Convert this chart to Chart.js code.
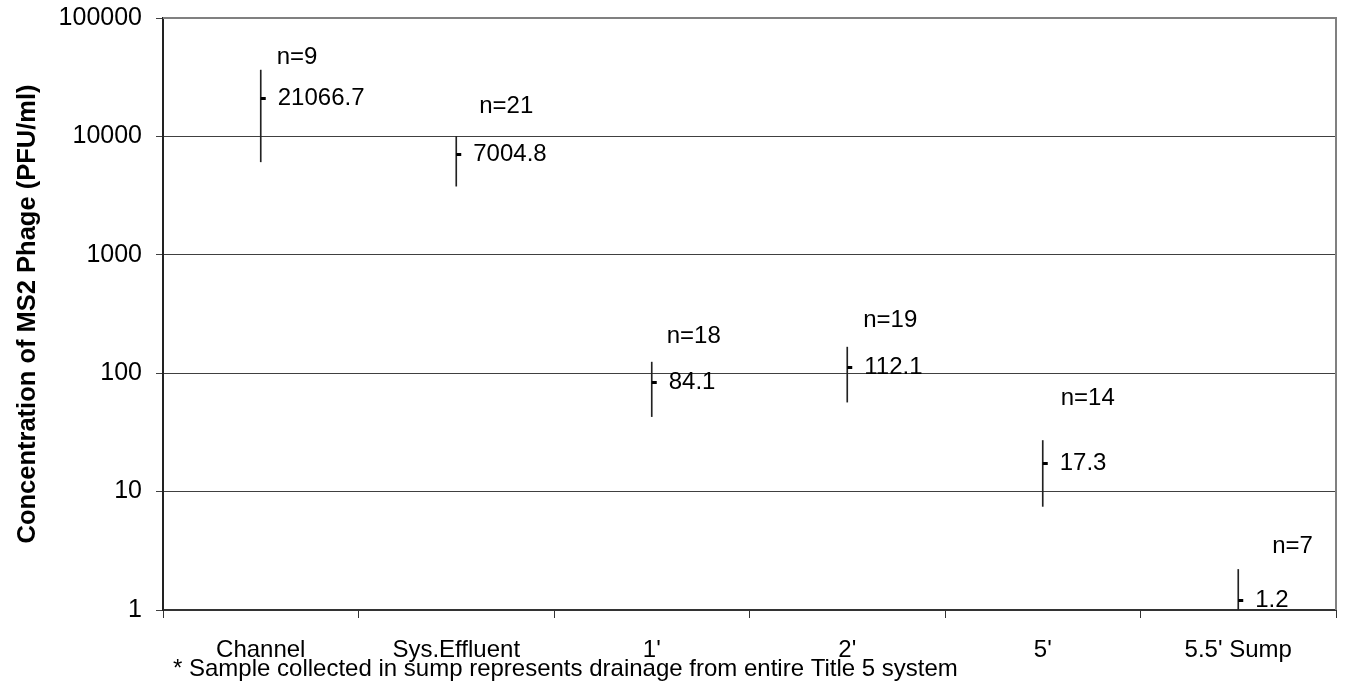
<!DOCTYPE html>
<html>
<head>
<meta charset="utf-8">
<script src="https://cdn.jsdelivr.net/npm/chart.js@4/dist/chart.umd.min.js"></script>
<style>
  html, body { margin: 0; padding: 0; background: #fff; }
</style>
</head>
<body>
<canvas id="chart" width="1346" height="686"></canvas>
<script>
// sampling locations
const categories = ['Channel', 'Sys.Effluent', "1'", "2'", "5'", "5.5' Sump"];
// mean concentration (PFU/ml)
const means = [21066.7, 7004.8, 84.1, 112.1, 17.3, 1.2];
const highs = [36300, 10000, 124, 166, 27, 2.2];
const lows = [6100, 3800, 43, 57, 7.5, 1];
// number of samples
const counts = [9, 21, 18, 19, 14, 7];
// y axis decades
const yTicks = [1, 10, 100, 1000, 10000, 100000];

const footnote = '* Sample collected in sump represents drainage from entire Title 5 system';
const FONT = '"Liberation Sans", Arial, Helvetica, sans-serif';
const FONT_SIZE = 24;

// where the "n=" labels sit relative to the mean marker [dx, dy]
const nLabelShift = [[16, 41], [23, 48], [15, 46], [16, 47], [18, 65], [34, 54]];

// little dash to the right of the range line marks the mean
function makeDash() {
  const c = document.createElement('canvas');
  c.width = 12;
  c.height = 3;
  const g = c.getContext('2d');
  g.fillStyle = '#000';
  g.fillRect(6, 0, 5, 3);
  return c;
}

const labelPlugin = {
  id: 'pointLabels',
  afterDatasetsDraw(chart) {
    const ctx = chart.ctx;
    const meta = chart.getDatasetMeta(1);
    ctx.save();
    ctx.font = FONT_SIZE + 'px ' + FONT;
    ctx.fillStyle = '#000';
    ctx.textBaseline = 'middle';
    meta.data.forEach((pt, i) => {
      ctx.fillText(means[i].toFixed(1), pt.x + 17, pt.y);
      const [dx, dy] = nLabelShift[i];
      ctx.fillText('n=' + counts[i], pt.x + dx, pt.y - dy);
    });
    ctx.restore();
  },
  afterDraw(chart) {
    const { ctx, chartArea } = chart;
    ctx.save();
    // grey frame on top and right
    ctx.strokeStyle = '#808080';
    ctx.lineWidth = 2;
    ctx.beginPath();
    ctx.moveTo(chartArea.left, chartArea.top);
    ctx.lineTo(chartArea.right, chartArea.top);
    ctx.lineTo(chartArea.right, chartArea.bottom);
    ctx.stroke();
    // footnote
    ctx.font = FONT_SIZE + 'px ' + FONT;
    ctx.fillStyle = '#000';
    ctx.textBaseline = 'middle';
    ctx.fillText(footnote, chartArea.left + 10, 669);
    ctx.restore();
  }
};

new Chart(document.getElementById('chart'), {
  type: 'bar',
  data: {
    labels: categories,
    datasets: [
      {
        type: 'bar',
        data: lows.map((lo, i) => [lo, highs[i]]),
        backgroundColor: '#222',
        borderWidth: 0,
        barThickness: 1,
        order: 2
      },
      {
        type: 'line',
        data: means,
        showLine: false,
        pointStyle: makeDash(),
        order: 1
      }
    ]
  },
  options: {
    responsive: false,
    animation: false,
    events: [],
    layout: { padding: { top: 18, right: 10, left: 0, bottom: 0 } },
    plugins: {
      legend: { display: false },
      tooltip: { enabled: false }
    },
    scales: {
      x: {
        offset: true,
        grid: {
          offset: true,
          drawOnChartArea: false,
          tickLength: 8,
          color: '#333'
        },
        border: { color: '#333', width: 2 },
        ticks: {
          color: '#000',
          font: { family: FONT, size: FONT_SIZE },
          padding: 18,
          maxRotation: 0
        },
        afterFit(scale) {
          scale.height = 76;
          scale.paddingLeft = 0;
          scale.paddingRight = 0;
        }
      },
      y: {
        type: 'logarithmic',
        min: 1,
        max: 100000,
        afterBuildTicks(scale) {
          scale.ticks = yTicks.map(v => ({ value: v }));
        },
        ticks: {
          color: '#000',
          font: { family: FONT, size: 25 },
          padding: 14,
          callback: v => String(v)
        },
        grid: {
          tickLength: 7,
          color: '#404040'
        },
        border: { color: '#222', width: 2 },
        title: {
          display: true,
          text: 'Concentration of MS2 Phage (PFU/ml)',
          color: '#000',
          font: { family: FONT, size: 25.5, weight: 'bold' },
          padding: { top: 13, bottom: 0 }
        },
        afterFit(scale) {
          scale.width = 163;
          scale.paddingTop = 0;
          scale.paddingBottom = 0;
        }
      }
    }
  },
  plugins: [labelPlugin]
});
</script>
</body>
</html>
